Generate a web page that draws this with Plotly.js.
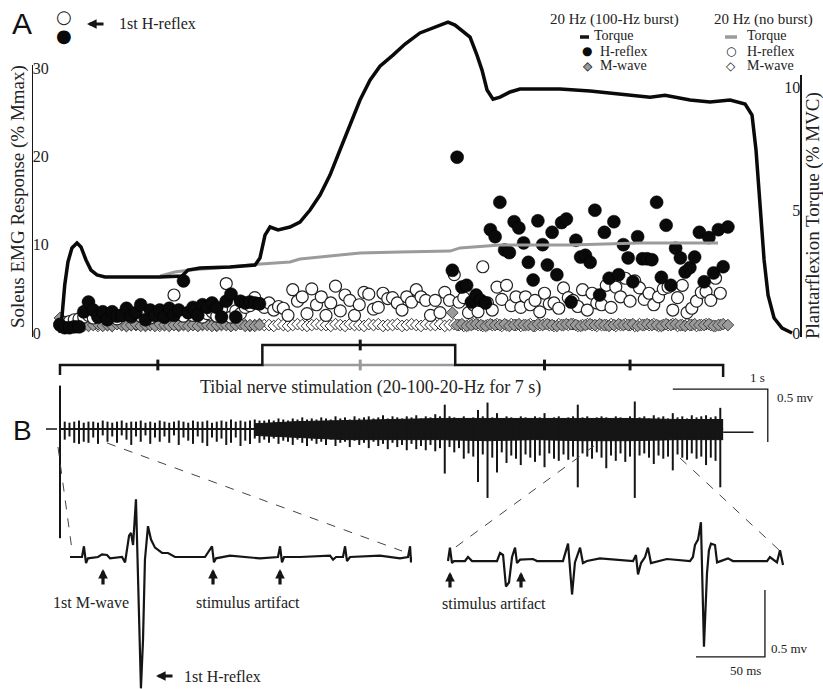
<!DOCTYPE html>
<html><head><meta charset="utf-8">
<script src="https://cdn.plot.ly/plotly-3.0.1.min.js"></script>
<style>html,body{margin:0;padding:0;background:#fff}</style>
</head><body><div id="chart" style="width:823px;height:689px"></div>
<script>
// ---------------- DATA ----------------
// Panel A: plantarflexion torque (% MVC) vs time (s)
const torqueT = [0,0.02,0.05,0.084,0.126,0.179,0.221,0.274,0.326,0.389,0.474,0.737,1.053,1.284,1.347,1.474,1.789,2.053,2.105,2.158,2.211,2.295,2.421,2.526,2.632,2.737,2.842,2.947,3.053,3.158,3.263,3.368,3.505,3.632,3.789,3.947,4.084,4.158,4.232,4.316,4.389,4.442,4.495,4.558,4.632,4.737,4.842,5.263,5.579,5.895,6.211,6.368,6.632,6.842,7.053,7.211,7.284,7.326,7.368,7.411,7.453,7.516,7.6,7.705];
const torqueBurst = [0,0.61,1.95,2.89,3.46,3.66,3.5,2.97,2.56,2.36,2.28,2.28,2.28,2.32,2.56,2.64,2.68,2.76,3.05,3.98,4.31,4.19,4.31,4.51,5.0,5.61,6.42,7.44,8.46,9.47,10.28,10.85,11.3,11.75,12.2,12.44,12.64,12.52,12.28,12.03,11.3,10.69,9.88,9.51,9.59,9.8,9.92,9.92,9.84,9.72,9.59,9.67,9.47,9.39,9.47,9.31,8.86,7.44,5.0,2.97,1.54,0.61,0.2,0];
const torqueNoBurstT = [1.053,1.211,1.368,1.789,2.074,2.421,2.526,2.947,3.158,3.579,4.105,4.211,4.632,5.368,6.105,6.926];
const torqueNoBurst = [2.32,2.48,2.56,2.68,2.80,2.89,3.01,3.17,3.25,3.29,3.33,3.46,3.58,3.58,3.66,3.66];

// stimulation at 20 Hz; responses (% Mmax)
const stimRate = 20;
const lateStart = 4.13;
const hNoBurst = [1.0,1.2,1.3,1.5,1.6,1.8,2.0,1.7,1.9,2.1,1.8,2.2,1.6,2.0,2.3,1.8,2.1,1.9,2.4,1.7,2.2,2.0,1.8,2.5,4.3,2.1,1.9,2.3,2.0,2.6,1.8,2.2,2.4,1.9,2.7,5.6,1.8,2.5,2.2,2.9,3.1,4.0,3.3,
 2.9,3.4,2.6,3.0,2.8,2.0,4.9,3.6,4.1,2.2,5.0,3.2,4.1,2.0,3.4,5.3,2.5,4.3,3.7,2.0,3.2,4.6,4.4,2.7,2.9,4.5,3.9,4.0,3.4,2.6,4.1,3.5,4.9,4.1,3.7,2.0,3.7,2.3,4.6,3.7,
 6.6,3.5,4.0,2.3,3.2,2.4,7.5,3.4,2.6,5.2,3.8,5.4,3.1,4.1,2.9,4.1,3.2,3.7,2.4,4.5,3.3,3.4,2.8,5.1,4.0,3.7,3.0,4.9,2.6,4.5,3.4,3.2,5.4,2.9,5.2,4.1,6.2,3.6,5.9,5.1,3.8,4.5,3.2,4.1,5.0,5.2,2.6,4.0,5.4,2.3,2.8,3.6,4.6,4.7,3.7,6.2,4.5];
const hBurstEarly = [0.9,0.6,0.6,0.7,0.7,2.4,3.5,2.6,1.8,2.4,1.5,2.4,1.9,2.0,2.8,1.9,2.3,3.2,1.5,2.6,2.0,2.6,1.8,2.8,2.0,2.6,5.9,2.3,2.9,2.0,3.2,2.9,3.4,2.9,1.8,3.6,4.4,1.8,3.6,3.4,3.5,3.4,3.3];
const hBurstLate = [7.1,19.9,5.2,5.4,3.5,4.3,3.7,3.4,11.7,10.9,14.8,9.4,9.1,12.6,11.9,10.2,8.0,6.0,12.7,10.0,7.7,11.4,6.6,12.5,12.9,3.5,10.5,8.6,8.8,8.0,13.9,4.3,11.4,6.2,12.6,6.6,10.0,8.5,5.8,10.9,8.4,8.4,8.3,14.8,6.3,12.2,5.4,9.6,8.5,6.9,7.4,8.6,11.4,5.8,10.8,6.8,11.7,7.5,12.0];
const mNoBurst = [0.7,0.6,0.7,0.8,0.9,0.8,0.9,1.0,0.8,0.9,0.9,0.8,1.0,0.9,0.8,0.9,0.9,1.0,0.8,0.9,1.0,0.8,0.9,0.9,1.0,0.8,0.9,1.0,0.9,0.8,0.9,1.0,0.9,0.8,0.9,1.0,0.8,0.9,1.0,0.9,0.8,0.9,1.0,0.9,0.9,0.8,1.0,0.9,0.8,0.9,1.0,0.9,0.8,0.9,1.0,0.9,0.9,0.8,1.0,0.9,0.8,1.0,0.9,0.9,0.8,1.0,0.9,1.0,0.8,0.9,0.9,1.0,0.8,0.9,1.0,0.9,0.8,1.0,0.9,0.9,1.0,0.8,0.9,1.0,0.9,0.8,0.9,1.0,0.9,0.8,0.9,0.9,1.0,0.8,0.9,1.0,0.9,0.8,0.9,1.0,0.8,0.9,1.0,0.9,0.8,1.0,0.9,0.9,1.0,0.8,0.9,1.0,0.9,0.8,0.9,0.9,1.0,0.8,0.9,1.0,0.9,0.8,1.0,0.9,0.9,1.0,0.8,0.9,0.9,1.0,0.8,0.9,1.0,0.9,0.8,0.9,1.0,0.9,0.8,0.9];
const mBurstEarly = [1.7,0.6,0.6,0.7,0.8,0.9,0.8,0.9,1.0,0.8,0.9,0.8,1.0,0.9,0.8,0.9,1.0,0.8,0.9,0.9,0.8,1.0,0.9,0.8,0.9,0.9,1.0,0.8,0.9,0.8,1.0,0.9,0.8,0.9,1.0,0.9,0.8,0.9,1.0,0.8,0.9,0.8,0.9];
const mBurstLate = [2.3,0.9,1.0,0.8,0.9,1.0,0.9,0.8,1.0,0.9,0.9,1.0,0.8,0.9,1.0,0.9,0.9,0.8,1.0,0.9,1.0,0.9,0.8,0.9,1.0,1.0,0.9,0.8,0.9,1.0,0.9,1.0,0.9,0.8,0.9,1.0,0.9,0.9,1.0,0.8,0.9,1.0,0.9,0.9,0.8,1.0,0.9,1.0,0.9,0.8,0.9,1.0,0.9,0.9,1.0,0.8,0.9,1.0,0.9];

// stimulation timeline (level 1 = 100-Hz burst)
const stimLineT = [0,0,2.13,2.13,4.16,4.16,6.98,6.98];
const stimLineLevel = [-0.5,0,0,1,1,0,0,-0.6];
const noBurstT = [2.13,4.16];
const tickT = [1.03,3.16,5.1,6.0];
const tickLevel = [0,1,0,0];

// Panel B: raw EMG (mV), peak per stimulus at 20 Hz
const emgUp = [0.41,0.07,0.06,0.07,0.08,0.06,0.07,0.07,0.06,0.08,0.07,0.06,0.07,0.08,0.06,0.07,0.07,0.08,0.06,0.07,0.06,0.08,0.07,0.06,0.07,0.08,0.07,0.06,0.08,0.07,0.07,0.08,0.06,0.07,0.08,0.07,0.09,0.07,0.08,0.07,0.08,0.09,0.08,
 0.08,0.09,0.08,0.10,0.09,0.08,0.10,0.09,0.11,0.09,0.10,0.09,0.11,0.10,0.09,0.12,0.10,0.11,0.09,0.12,0.10,0.11,0.12,0.10,0.11,0.13,0.10,0.12,0.11,0.10,0.12,0.11,0.13,0.10,0.12,0.11,0.14,0.12,0.23,0.12,
 0.11,0.10,0.12,0.10,0.11,0.18,0.12,0.25,0.11,0.15,0.10,0.12,0.11,0.10,0.12,0.11,0.10,0.12,0.11,0.15,0.10,0.11,0.12,0.10,0.11,0.12,0.23,0.11,0.12,0.10,0.11,0.12,0.11,0.10,0.12,0.11,0.10,0.12,0.26,0.11,0.12,0.10,0.13,0.11,0.12,0.10,0.15,0.11,0.12,0.10,0.13,0.11,0.12,0.13,0.11,0.12,0.20];
const emgDown = [-1.03,-0.10,-0.07,-0.13,-0.14,-0.12,-0.13,-0.08,-0.14,-0.06,-0.12,-0.07,-0.13,-0.06,-0.10,-0.15,-0.07,-0.12,-0.06,-0.14,-0.08,-0.12,-0.07,-0.13,-0.06,-0.15,-0.08,-0.11,-0.14,-0.07,-0.13,-0.16,-0.08,-0.12,-0.09,-0.15,-0.13,-0.08,-0.16,-0.11,-0.14,-0.09,-0.13,
 -0.10,-0.13,-0.09,-0.14,-0.11,-0.12,-0.15,-0.10,-0.13,-0.16,-0.11,-0.14,-0.12,-0.15,-0.10,-0.16,-0.13,-0.12,-0.17,-0.11,-0.15,-0.13,-0.18,-0.12,-0.16,-0.14,-0.19,-0.13,-0.17,-0.15,-0.20,-0.14,-0.19,-0.16,-0.20,-0.15,-0.21,-0.18,-0.42,-0.17,
 -0.22,-0.18,-0.28,-0.23,-0.26,-0.50,-0.24,-0.65,-0.27,-0.41,-0.22,-0.32,-0.25,-0.28,-0.34,-0.24,-0.27,-0.31,-0.25,-0.36,-0.23,-0.28,-0.30,-0.24,-0.29,-0.26,-0.55,-0.23,-0.26,-0.28,-0.22,-0.27,-0.37,-0.25,-0.30,-0.23,-0.31,-0.26,-0.65,-0.25,-0.23,-0.27,-0.33,-0.25,-0.28,-0.26,-0.39,-0.24,-0.27,-0.29,-0.23,-0.28,-0.26,-0.34,-0.27,-0.30,-0.55];
const emgBandT = [2.05,2.5,3.0,3.5,4.0,4.5,5.0,5.5,6.0,6.5,6.98];
const emgBandTop = [0.05,0.07,0.08,0.09,0.10,0.10,0.10,0.10,0.10,0.09,0.09];
const emgBandBot = [-0.06,-0.08,-0.10,-0.10,-0.10,-0.11,-0.10,-0.11,-0.11,-0.10,-0.10];
const emgTailT = [6.98,7.3];
const emgTailV = [-0.03,-0.03];

// Insets (ms, mV)
const leftMs = [0,8.7,10.1,11.6,13.0,20.3,23.2,26.8,29.0,37.7,39.9,41.3,42.8,44.2,45.7,47.8,50.0,51.4,52.9,54.3,56.5,58.7,61.6,66.7,71.0,76.1,97.8,102.9,104.3,105.8,115.9,137.7,150.7,152.2,153.6,155.1,166.7,188.4,190.6,192.8,197.8,199.3,200.7,202.9,224.6,239.1,244.9,246.4,247.1,247.8];
const leftMv = [0,0,0.08,-0.045,-0.01,0,0.02,0.015,-0.01,0,-0.04,0.07,0.16,0.18,0.09,0.43,-0.32,-0.98,-0.62,-0.02,0.23,0.13,0.07,0.03,0.03,0,0,0.08,-0.04,-0.01,0.01,-0.01,0,0.08,-0.04,0,0,0.01,-0.02,0,0,0.08,-0.03,0,0.01,-0.01,0,0.08,-0.04,0];
const rightMs = [0,1.4,2.9,4.3,12.3,14.5,17.4,35.5,37.7,39.9,42.0,44.2,46.4,48.6,50.0,52.2,61.6,64.5,83.3,85.5,87.0,89.9,92.0,95.7,97.8,100.7,110.1,134.1,136.2,137.7,139.9,142.8,144.9,147.1,158.7,175.4,177.5,179.0,181.2,183.3,184.8,185.5,187.7,189.1,190.6,193.5,195.0,202.9,206.5,231.2,233.3,238.4,240.6,242.8];
const rightMv = [0,0.10,-0.015,0,0,0.03,0,0,0.06,0.045,-0.19,-0.16,0.03,0.10,-0.015,0.01,0.015,0,0,0.07,0.13,-0.25,-0.01,0.10,-0.015,0,0.02,0,0.045,-0.10,-0.015,0.03,0.10,-0.015,0.015,0,0.03,0.12,0.16,0.29,-0.29,-0.64,-0.09,0.08,0.13,0.12,-0.01,0.02,0,0,0.03,-0.01,0.08,-0.03];

// scale bars
const scaleSec = 1, scaleTopMv = 0.5, scaleMs = 50, scaleInsetMv = 0.5;

// ---------------- BUILD ----------------
const W = 823, H = 689;
const times = (n, t0) => Array.from({length: n}, (_, i) => t0 + i / stimRate);
const serif = 'Liberation Serif';
const ink = '#151515';

const spikeX = [], spikeY = [];
times(emgUp.length, 0).forEach((t, i) => { spikeX.push(t, t, null); spikeY.push(emgUp[i], emgDown[i], null); });

const tickX = [], tickY = [];
tickT.forEach((t, i) => { tickX.push(t, t, null); tickY.push(tickLevel[i] - 0.27, tickLevel[i] + 0.27, null); });

const traces = [
  {x: times(mNoBurst.length, 0), y: mNoBurst, xaxis: 'x', yaxis: 'y', mode: 'markers',
   marker: {symbol: 'diamond', size: 9, color: '#fff', line: {color: '#333', width: 1}}},
  {x: times(mBurstEarly.length, 0).concat(times(mBurstLate.length, lateStart)), y: mBurstEarly.concat(mBurstLate),
   xaxis: 'x', yaxis: 'y', mode: 'markers',
   marker: {symbol: 'diamond', size: 9, color: '#9a9a9a', line: {color: '#444', width: 1}}},
  {x: times(hNoBurst.length, 0), y: hNoBurst, xaxis: 'x', yaxis: 'y', mode: 'markers',
   marker: {symbol: 'circle', size: 12, color: '#fff', line: {color: '#222', width: 1.2}}},
  {x: times(hBurstEarly.length, 0).concat(times(hBurstLate.length, lateStart)), y: hBurstEarly.concat(hBurstLate),
   xaxis: 'x', yaxis: 'y', mode: 'markers',
   marker: {symbol: 'circle', size: 13, color: '#0a0a0a', line: {color: '#000', width: 0.5}}},
  {x: torqueNoBurstT, y: torqueNoBurst, xaxis: 'x', yaxis: 'y2', mode: 'lines', line: {color: '#9b9b9b', width: 3}},
  {x: torqueT, y: torqueBurst, xaxis: 'x', yaxis: 'y3', mode: 'lines', line: {color: '#0a0a0a', width: 3.5}},
  // timeline
  {x: noBurstT, y: [0, 0], xaxis: 'x', yaxis: 'y4', mode: 'lines', line: {color: '#999', width: 2.5}},
  {x: [tickT[1], tickT[1]], y: [-0.27, 0.27], xaxis: 'x', yaxis: 'y4', mode: 'lines', line: {color: '#999', width: 3}},
  {x: stimLineT, y: stimLineLevel, xaxis: 'x', yaxis: 'y4', mode: 'lines', line: {color: ink, width: 2.5}},
  {x: tickX, y: tickY, xaxis: 'x', yaxis: 'y4', mode: 'lines', line: {color: ink, width: 3}},
  // EMG top trace
  {x: [0, emgBandT[emgBandT.length - 1]], y: [0, 0], xaxis: 'x', yaxis: 'y5', mode: 'lines', line: {color: ink, width: 2}},
  {x: emgBandT, y: emgBandBot, xaxis: 'x', yaxis: 'y5', mode: 'lines', line: {color: ink, width: 1}},
  {x: emgBandT, y: emgBandTop, xaxis: 'x', yaxis: 'y5', mode: 'lines', fill: 'tonexty', fillcolor: ink, line: {color: ink, width: 1}},
  {x: spikeX, y: spikeY, xaxis: 'x', yaxis: 'y5', mode: 'lines', line: {color: ink, width: 2}},
  {x: emgTailT, y: emgTailV, xaxis: 'x', yaxis: 'y5', mode: 'lines', line: {color: ink, width: 1.5}},
  {x: [7.45 - scaleSec, 7.45, 7.45], y: [0.377, 0.377, 0.377 - scaleTopMv], xaxis: 'x', yaxis: 'y5', mode: 'lines', line: {color: ink, width: 1.3}},
  // insets
  {x: leftMs, y: leftMv, xaxis: 'x2', yaxis: 'y6', mode: 'lines', line: {color: ink, width: 2.2}},
  {x: rightMs, y: rightMv, xaxis: 'x3', yaxis: 'y7', mode: 'lines', line: {color: ink, width: 2.2}},
  {x: [229.7 - scaleMs, 229.7, 229.7], y: [-0.716, -0.716, -0.716 + scaleInsetMv], xaxis: 'x3', yaxis: 'y7', mode: 'lines', line: {color: ink, width: 1.3}}
];
traces.forEach(t => { t.type = 'scatter'; t.hoverinfo = 'skip'; t.showlegend = false; });

const fy = px => 1 - px / H;
const hidden = {visible: false, showgrid: false, zeroline: false};

function ann(text, x, y, opt) {
  const a = {text: text, x: x / W, y: fy(y), xref: 'paper', yref: 'paper', showarrow: false,
    xanchor: 'center', yanchor: 'middle', font: {family: serif, size: 17, color: '#222'}};
  if (opt) {
    if (opt.font) { a.font = Object.assign({}, a.font, opt.font); }
    Object.keys(opt).forEach(k => { if (k !== 'font') a[k] = opt[k]; });
  }
  return a;
}
function arrow(x, y, ax, ay) {
  return {text: '', x: x / W, y: fy(y), xref: 'paper', yref: 'paper', showarrow: true, ax: ax, ay: ay,
    arrowhead: 2, arrowwidth: 3.2, arrowsize: 0.6, arrowcolor: ink};
}
const gl = (size, color) => ({family: 'DejaVu Sans', size: size, color: color});

const annotations = [
  ann('A', 22, 24, {font: {family: 'Liberation Sans', size: 30, color: '#111'}}),
  ann('○', 64, 17, {font: gl(18, '#222')}),
  ann('●', 64, 35, {font: gl(18, '#0a0a0a')}),
  arrow(87, 24, 18, 0),
  ann('1st H-reflex', 117, 24, {xanchor: 'left', font: {size: 16}}),
  ann('20 Hz (100-Hz burst)', 614, 19, {font: {size: 15}}),
  ann('Torque', 592, 36, {xanchor: 'left', font: {size: 14}}),
  ann('●', 587, 51, {font: gl(12, '#0a0a0a')}),
  ann('H-reflex', 598, 51, {xanchor: 'left', font: {size: 14}}),
  ann('◆', 588, 66, {font: gl(12, '#9a9a9a')}),
  ann('◇', 588, 66, {font: gl(12, '#222')}),
  ann('M-wave', 598, 66, {xanchor: 'left', font: {size: 14}}),
  ann('20 Hz (no burst)', 763, 19, {font: {size: 15}}),
  ann('Torque', 745, 36, {xanchor: 'left', font: {size: 14}}),
  ann('○', 731, 51, {font: gl(12, '#222')}),
  ann('H-reflex', 745, 51, {xanchor: 'left', font: {size: 14}}),
  ann('◇', 731, 66, {font: gl(12, '#222')}),
  ann('M-wave', 745, 66, {xanchor: 'left', font: {size: 14}}),
  ann('Soleus EMG Response (% Mmax)', 18, 197, {textangle: -90, font: {size: 19}}),
  ann('Plantarflexion Torque (% MVC)', 813, 216, {textangle: -90, font: {size: 19}}),
  ann('Tibial nerve stimulation (20-100-20-Hz for 7 s)', 370, 387, {font: {size: 18}}),
  ann('1 s', 757, 377, {font: {size: 13}}),
  ann('0.5 mv', 795, 397, {font: {size: 13}}),
  ann('B', 22, 430, {font: {family: 'Liberation Sans', size: 28, color: '#111'}}),
  ann('1st M-wave', 91, 602, {font: {size: 16}}),
  ann('stimulus artifact', 248, 602, {font: {size: 16}}),
  ann('stimulus artifact', 494, 603, {font: {size: 16}}),
  arrow(103, 569, 0, 17), arrow(213, 569, 0, 17), arrow(280, 569, 0, 17),
  arrow(450, 572, 0, 17), arrow(521, 572, 0, 17),
  ann('0.5 mv', 789, 648, {font: {size: 13}}),
  ann('50 ms', 745, 670, {font: {size: 13}}),
  arrow(156, 676, 18, 0),
  ann('1st H-reflex', 182, 676, {xanchor: 'left', font: {size: 16}})
];

function seg(x0, y0, x1, y1, color, width, dash) {
  return {type: 'line', xref: 'paper', yref: 'paper', x0: x0 / W, y0: fy(y0), x1: x1 / W, y1: fy(y1),
    line: {color: color, width: width, dash: dash || 'solid'}};
}
const shapes = [
  seg(580, 37, 589, 37, ink, 3.5),
  seg(725, 37, 737, 37, '#9b9b9b', 3.5),
  seg(46, 429, 57, 429, ink, 1.5),
  seg(58, 447, 72, 550, '#444', 1, 'dash'),
  seg(107, 443, 402, 551, '#444', 1, 'dash'),
  seg(594, 446, 453, 549, '#444', 1, 'dash'),
  seg(680, 458, 779, 550, '#444', 1, 'dash')
];

const axisStyle = {showline: true, linecolor: ink, linewidth: 1.5, ticks: '', showgrid: false, zeroline: false,
  ticklabelposition: 'inside', ticklabeloverflow: 'allow', tickfont: {family: serif, size: 16, color: '#222'}};

const layout = {
  width: W, height: H, margin: {l: 0, r: 0, t: 0, b: 0},
  paper_bgcolor: '#fff', plot_bgcolor: 'rgba(0,0,0,0)', showlegend: false, hovermode: false,
  font: {family: serif, size: 16, color: '#222'},
  xaxis: Object.assign({domain: [33 / W, 800 / W], range: [-0.284, 7.789], anchor: 'y'}, hidden),
  yaxis: Object.assign({domain: [fy(337), fy(65)], range: [-0.453, 30.34], anchor: 'x', tickvals: [0, 10, 20, 30]}, axisStyle),
  yaxis2: Object.assign({domain: [fy(337), fy(75)], range: [-0.163, 10.49], anchor: 'x', side: 'right', tickvals: [0, 5, 10]}, axisStyle),
  yaxis3: Object.assign({domain: [fy(337), fy(15)], range: [-0.163, 12.93], anchor: 'x'}, hidden),
  yaxis4: Object.assign({domain: [fy(385), fy(335)], range: [-1.0, 1.5], anchor: 'x'}, hidden),
  yaxis5: Object.assign({domain: [fy(545), fy(370)], range: [-1.094, 0.557], anchor: 'x'}, hidden),
  xaxis2: Object.assign({domain: [70 / W, 412 / W], range: [0, 247.8], anchor: 'y6'}, hidden),
  yaxis6: Object.assign({domain: [0, fy(488)], range: [-0.985, 0.515], anchor: 'x2'}, hidden),
  xaxis3: Object.assign({domain: [440 / W, 800 / W], range: [-5.8, 255.1], anchor: 'y7'}, hidden),
  yaxis7: Object.assign({domain: [0, fy(488)], range: [-0.955, 0.545], anchor: 'x3'}, hidden),
  annotations: annotations,
  shapes: shapes
};

Plotly.newPlot('chart', traces, layout, {staticPlot: true, displayModeBar: false});
</script></body></html>
